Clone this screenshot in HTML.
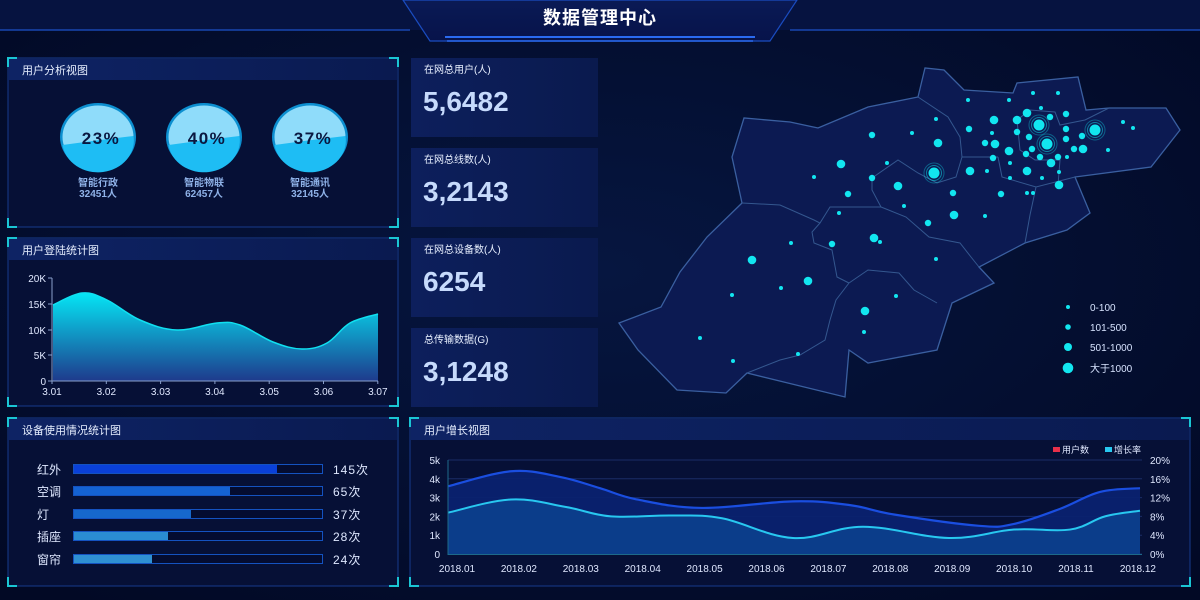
<!DOCTYPE html>
<html><head><meta charset="utf-8"><style>
html,body{margin:0;padding:0;background:#030a2c;}
svg{display:block;font-family:"Liberation Sans","Noto Sans CJK SC",sans-serif;}
</style></head><body>
<svg id="s" width="1200" height="600" viewBox="0 0 1200 600" xmlns="http://www.w3.org/2000/svg">
<defs>
<radialGradient id="bg" cx="0.5" cy="0.45" r="0.7"><stop offset="0" stop-color="#061640"/><stop offset="1" stop-color="#020925"/></radialGradient>
<linearGradient id="ttl" x1="0" x2="1"><stop offset="0" stop-color="#0e2364"/><stop offset="1" stop-color="#0a1a50"/></linearGradient>
<linearGradient id="a1" x1="0" y1="0" x2="0" y2="1"><stop offset="0" stop-color="#05e6f5"/><stop offset="1" stop-color="#1e3a8c"/></linearGradient>
<linearGradient id="card" x1="0" x2="1"><stop offset="0" stop-color="#0d1f5c"/><stop offset="1" stop-color="#0a1a4e"/></linearGradient>
<linearGradient id="hdr" x1="0" y1="0" x2="0" y2="1"><stop offset="0" stop-color="#0a1a55"/><stop offset="1" stop-color="#07134a"/></linearGradient>
</defs>
<rect width="1200" height="600" fill="url(#bg)"/>
<!-- header -->
<rect x="0" y="0" width="1200" height="30" fill="#061340"/>
<line x1="0" y1="30" x2="410" y2="30" stroke="#1846b0" stroke-width="1.5"/>
<line x1="790" y1="30" x2="1200" y2="30" stroke="#1846b0" stroke-width="1.5"/>
<path d="M403 0 L430 41 L770 41 L797 0 Z" fill="url(#hdr)" stroke="#1a4cc0" stroke-width="1.2"/>
<line x1="445" y1="37" x2="755" y2="37" stroke="#2a6af0" stroke-width="2"/>
<line x1="447" y1="41" x2="753" y2="41" stroke="#2a6af0" stroke-width="1.5"/>
<text x="600" y="24" text-anchor="middle" fill="#ffffff" font-size="18" font-weight="bold" letter-spacing="1">数据管理中心</text>
<g id="panels"></g>
<!-- panel 1 -->
<g font-size="17" font-weight="bold">
<g id="balls"></g>
</g>
<!-- stat cards -->
<g>
<rect x="411" y="58" width="187" height="79" fill="url(#card)"/>
<rect x="411" y="148" width="187" height="79" fill="url(#card)"/>
<rect x="411" y="238" width="187" height="79" fill="url(#card)"/>
<rect x="411" y="328" width="187" height="79" fill="url(#card)"/>
<g fill="#e8f0ff" font-size="10"><text x="424" y="73">在网总用户(人)</text><text x="424" y="163">在网总线数(人)</text><text x="424" y="253">在网总设备数(人)</text><text x="424" y="343">总传输数据(G)</text></g>
<g fill="#c6dafc" font-size="28" font-weight="bold"><text x="423" y="111">5,6482</text><text x="423" y="201">3,2143</text><text x="423" y="291">6254</text><text x="423" y="381">3,1248</text></g>
</g>
<!-- map -->
<g id="map"></g>
<!-- chart1 -->
<g id="c1"></g>
<!-- bars -->
<g id="bars"></g>
<!-- chart4 -->
<g id="c4"></g>
</svg>
<script>
const NS="http://www.w3.org/2000/svg";
function el(parent,tag,attrs,text){const e=document.createElementNS(NS,tag);for(const k in attrs)e.setAttribute(k,attrs[k]);if(text!==undefined)e.textContent=text;document.getElementById(parent).appendChild(e);return e;}
function smooth(p){let d="M"+p[0][0]+" "+p[0][1];for(let i=0;i<p.length-1;i++){const p0=p[i-1]||p[i],p1=p[i],p2=p[i+1],p3=p[i+2]||p2;const t=0.18;
d+=` C${p1[0]+(p2[0]-p0[0])*t} ${p1[1]+(p2[1]-p0[1])*t} ${p2[0]-(p3[0]-p1[0])*t} ${p2[1]-(p3[1]-p1[1])*t} ${p2[0]} ${p2[1]}`;}return d;}
// panels
function panel(x,y,w,h,title){
 el("panels","rect",{x:x,y:y,width:w,height:h,fill:"#061036",stroke:"#173a8c","stroke-width":1});
 el("panels","rect",{x:x+1,y:y+1,width:w-2,height:21,fill:"url(#ttl)"});
 el("panels","text",{x:x+14,y:y+16,fill:"#e6eeff","font-size":11},title);
 const c="#1ac6d4",L=9;
 el("panels","path",{d:`M${x} ${y+L}V${y}H${x+L} M${x+w-L} ${y}H${x+w}V${y+L} M${x} ${y+h-L}V${y+h}H${x+L} M${x+w-L} ${y+h}H${x+w}V${y+h-L}`,fill:"none",stroke:c,"stroke-width":2});
}
panel(8,58,390,169,"用户分析视图");
panel(8,238,390,168,"用户登陆统计图");
panel(8,418,390,168,"设备使用情况统计图");
panel(410,418,780,168,"用户增长视图");
// balls
[[98,"23%","智能行政","32451人",0.4],[204,"40%","智能物联","62457人",0.45],[310,"37%","智能通讯","32145人",0.47]].forEach(b=>{
 const cx=b[0],cy=137;
 el("balls","ellipse",{cx:cx,cy:cy,rx:38,ry:34,fill:"#0c8fd0"});
 el("balls","ellipse",{cx:cx,cy:cy,rx:35.5,ry:31.5,fill:"#8fdcfa"});
 const wy=cy+5;
 el("balls","path",{d:`M${cx-35.5} ${wy+3} Q${cx} ${wy-2} ${cx+35.5} ${wy-6} A35.5 31.5 0 0 1 ${cx-35.5} ${wy+3} Z`,fill:"#1ebdf4"});
 el("balls","text",{x:cx+3,y:cy+7,"text-anchor":"middle",fill:"#0a1840","font-size":17,"font-weight":"bold","letter-spacing":"1.5"},b[1]);
 el("balls","text",{x:cx,y:186,"text-anchor":"middle",fill:"#8fb2e8","font-size":10},b[2]);
 el("balls","text",{x:cx,y:197,"text-anchor":"middle",fill:"#8fb2e8","font-size":10},b[3]);
});
// map
const outline=[[619,323],[661,307],[680,272],[707,237],[742,203],[732,157],[744,118],[790,122],[818,128],[868,107],[918,97],[925,68],[944,70],[964,90],[1013,93],[1017,83],[1078,77],[1086,110],[1109,108],[1166,108],[1180,130],[1151,167],[1075,177],[1090,213],[1067,230],[1025,243],[979,267],[994,283],[952,303],[937,350],[868,363],[849,350],[845,397],[747,373],[726,393],[677,390],[638,350]];
el("map","path",{d:"M"+outline.map(p=>p.join(" ")).join(" L")+" Z",fill:"#0c1a52",stroke:"#3a5fa0","stroke-width":1.3});
const borders=[
[[742,203],[780,205],[814,220],[820,223],[812,232],[814,243],[832,250],[837,277],[849,283]],
[[849,283],[836,300],[830,320],[825,340],[800,355],[780,360],[747,373]],
[[849,283],[868,270],[899,273],[914,290],[937,303]],
[[820,223],[830,207],[881,207],[872,190],[872,178],[898,160],[918,173],[937,183],[956,177],[962,157],[998,157]],
[[918,97],[948,117],[960,137],[962,157]],
[[881,207],[906,217],[929,237],[960,243],[971,257],[979,267]],
[[998,157],[1002,177],[1036,187],[1075,177]],
[[1036,187],[1030,215],[1025,243]],
[[1017,120],[1030,110],[1055,112],[1060,125],[1085,120],[1109,108]],
[[1017,120],[1020,150],[1035,160],[1060,160],[1058,185]]];
borders.forEach(b=>el("map","path",{d:"M"+b.map(p=>p.join(" ")).join(" L"),fill:"none",stroke:"#34578f","stroke-width":1}));
const dc="#12e6f0";
[[934,173],[1039,125],[1047,144],[1095,130]].forEach(p=>{
 el("map","circle",{cx:p[0],cy:p[1],r:10,fill:"none",stroke:dc,"stroke-opacity":0.35,"stroke-width":1});
 el("map","circle",{cx:p[0],cy:p[1],r:7.5,fill:"none",stroke:dc,"stroke-opacity":0.5,"stroke-width":1});
 el("map","circle",{cx:p[0],cy:p[1],r:5.5,fill:dc});});
[[938,143],[841,164],[898,186],[954,215],[874,238],[752,260],[808,281],[865,311],[970,171],[994,120],[1027,113],[1017,120],[995,144],[1009,151],[1027,171],[1059,185],[1051,163],[1083,149]].forEach(p=>el("map","circle",{cx:p[0],cy:p[1],r:4.3,fill:dc}));
[[872,135],[848,194],[872,178],[953,193],[1001,194],[928,223],[832,244],[969,129],[1066,114],[1017,132],[1029,137],[1032,149],[1026,154],[1040,157],[1058,157],[1066,129],[1066,139],[1074,149],[1082,136],[993,158],[985,143],[1050,117]].forEach(p=>el("map","circle",{cx:p[0],cy:p[1],r:3.2,fill:dc}));
[[936,119],[912,133],[887,163],[814,177],[904,206],[839,213],[985,216],[880,242],[936,259],[791,243],[781,288],[732,295],[896,296],[864,332],[798,354],[700,338],[733,361],[968,100],[1009,100],[1033,93],[1058,93],[1123,122],[1133,128],[1108,150],[987,171],[1010,178],[1027,193],[1033,193],[1042,178],[1059,172],[1067,157],[1010,163],[1041,108],[992,133]].forEach(p=>el("map","circle",{cx:p[0],cy:p[1],r:2,fill:dc}));
[[307,2,"0-100"],[327,2.8,"101-500"],[347,4,"501-1000"],[368,5.3,"大于1000"]].forEach(l=>{
 el("map","circle",{cx:1068,cy:l[0],r:l[1],fill:dc});
 el("map","text",{x:1090,y:l[0]+4,fill:"#d8e4ff","font-size":10},l[2]);});
// chart1
const c1=[[53,305],[82,293],[107,300],[140,320],[177,330],[217,323],[240,325],[273,342],[302,349],[327,343],[350,323],[378,314]];
const d1=smooth(c1);
el("c1","path",{d:d1+" L378 381 L53 381 Z",fill:"url(#a1)"});
el("c1","path",{d:d1,fill:"none",stroke:"#10e0f0","stroke-width":1.5});
el("c1","line",{x1:52,y1:278,x2:52,y2:381,stroke:"#8aa0cc","stroke-width":1});
el("c1","line",{x1:52,y1:381,x2:378,y2:381,stroke:"#8aa0cc","stroke-width":1});
[["20K",278],["15K",304],["10K",330],["5K",355],["0",381]].forEach(t=>{
 el("c1","text",{x:46,y:t[1]+4,"text-anchor":"end",fill:"#e0e8ff","font-size":10},t[0]);
 el("c1","line",{x1:48,y1:t[1],x2:52,y2:t[1],stroke:"#8aa0cc"});});
["3.01","3.02","3.03","3.04","3.05","3.06","3.07"].forEach((t,i)=>{const x=52+i*54.3;
 el("c1","text",{x:x,y:395,"text-anchor":"middle",fill:"#e0e8ff","font-size":10},t);
 el("c1","line",{x1:x,y1:381,x2:x,y2:384,stroke:"#8aa0cc"});});
// bars
[["红外",469,277,"145次","#0a40d8"],["空调",491,230,"65次","#1462d2"],["灯",514,191,"37次","#1668cc"],["插座",536,168,"28次","#2a8cd2"],["窗帘",559,152,"24次","#2f90d2"]].forEach(b=>{
 el("bars","text",{x:37,y:b[1]+5,fill:"#dfe8ff","font-size":12},b[0]);
 el("bars","rect",{x:73.5,y:b[1]-4.5,width:249,height:9,fill:"#040c30",stroke:"#1452c0","stroke-width":1});
 el("bars","rect",{x:74,y:b[1]-4,width:b[2]-74,height:8,fill:b[4]});
 el("bars","text",{x:333,y:b[1]+5,fill:"#dfe8ff","font-size":12,"letter-spacing":"1"},b[3]);});
// chart4
const ky=k=>554-18.8*k;
for(let k=0;k<=5;k++){el("c4","line",{x1:448,y1:ky(k),x2:1142,y2:ky(k),stroke:"#1a2c66","stroke-width":1});
 el("c4","text",{x:440,y:ky(k)+4,"text-anchor":"end",fill:"#e0e8ff","font-size":10},k?k+"k":"0");
 el("c4","text",{x:1150,y:ky(k)+4,fill:"#e0e8ff","font-size":10},(k*4)+"%");}
const A=[[448,3.6],[511,4.4],[560,4.1],[600,3.5],[637,2.9],[702,2.45],[793,2.8],[850,2.6],[894,2.1],[979,1.5],[1014,1.6],[1060,2.4],[1100,3.3],[1140,3.5]].map(p=>[p[0],ky(p[1])]);
const B=[[448,2.2],[511,2.9],[566,2.5],[611,2.0],[672,2.05],[722,1.9],[793,0.85],[863,1.45],[949,0.85],[1014,1.3],[1070,1.3],[1105,2.0],[1140,2.3]].map(p=>[p[0],ky(p[1])]);
const dA=smooth(A),dB=smooth(B);
el("c4","path",{d:dA+" L1140 554 L448 554 Z",fill:"#0a2270","fill-opacity":0.95});
el("c4","path",{d:dB+" L1140 554 L448 554 Z",fill:"#0b3d8a"});
el("c4","path",{d:dA,fill:"none",stroke:"#1a4ee0","stroke-width":2.2});
el("c4","path",{d:dB,fill:"none",stroke:"#28c8f0","stroke-width":2});
el("c4","line",{x1:448,y1:460,x2:448,y2:555,stroke:"#1d6a8a"});
el("c4","line",{x1:448,y1:554.5,x2:1142,y2:554.5,stroke:"#1d6a8a"});
["2018.01","2018.02","2018.03","2018.04","2018.05","2018.06","2018.07","2018.08","2018.09","2018.10","2018.11","2018.12"].forEach((t,i)=>el("c4","text",{x:457+i*61.9,y:572,"text-anchor":"middle",fill:"#e0e8ff","font-size":10},t));
el("c4","rect",{x:1053,y:447,width:7,height:5,fill:"#e8304a"});
el("c4","text",{x:1062,y:453,fill:"#e0e8ff","font-size":9},"用户数");
el("c4","rect",{x:1105,y:447,width:7,height:5,fill:"#28c8f0"});
el("c4","text",{x:1114,y:453,fill:"#e0e8ff","font-size":9},"增长率");
</script>
</body></html>
